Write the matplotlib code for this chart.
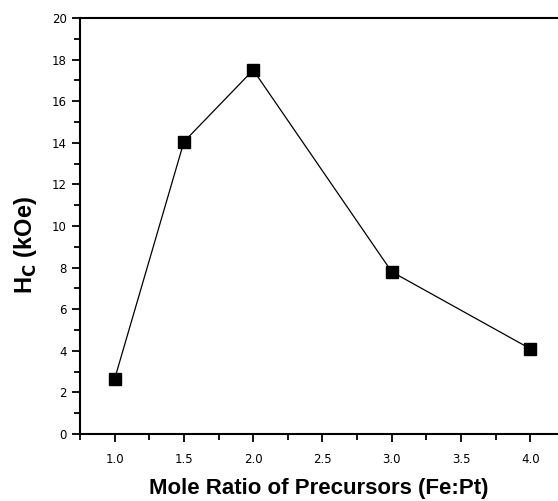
import matplotlib
matplotlib.use("Agg")
import matplotlib.pyplot as plt
from matplotlib.ticker import MultipleLocator

ratio = [1.0, 1.5, 2.0, 3.0, 4.0]
hc = [2.65, 14.05, 17.5, 7.8, 4.1]
xticks = [1.0, 1.5, 2.0, 2.5, 3.0, 3.5, 4.0]
yticks = [0, 2, 4, 6, 8, 10, 12, 14, 16, 18, 20]

fig = plt.figure(figsize=(5.58, 5.01), dpi=100)
ax = fig.add_axes([0.1434, 0.1337, 0.8566, 0.8303])
ax.plot(ratio, hc, color="black", lw=0.9, marker="s", markersize=9,
        markerfacecolor="black", markeredgecolor="black")
ax.set_xlim(0.75, 4.2)
ax.set_ylim(0, 20)
ax.set_xticks(xticks)
ax.set_xticklabels([f"{v:.1f}" for v in xticks])
ax.set_yticks(yticks)
ax.xaxis.set_minor_locator(MultipleLocator(0.25))
ax.yaxis.set_minor_locator(MultipleLocator(1))
ax.spines["right"].set_visible(False)
for s in ["left", "bottom", "top"]:
    ax.spines[s].set_linewidth(1.5)
ax.tick_params(which="both", direction="out", width=1.3, labelsize=8.5)
ax.tick_params(which="major", length=6)
ax.tick_params(which="minor", length=4)
ax.tick_params(axis="x", pad=8)
ax.tick_params(top=False, right=False)
ax.set_xlabel("Mole Ratio of Precursors (Fe:Pt)", fontsize=16, fontweight="bold",
              family="Liberation Sans")
ax.xaxis.set_label_coords(0.5, -0.132)
ax.xaxis.label.set_va("center")
ax.set_ylabel(r"H$_\mathbf{C}$ (kOe)", fontsize=17, fontweight="bold",
              family="Liberation Sans")
ax.yaxis.set_label_coords(-0.115, 0.454)
ax.yaxis.label.set_va("center")
fig.savefig("out.png", dpi=100)
